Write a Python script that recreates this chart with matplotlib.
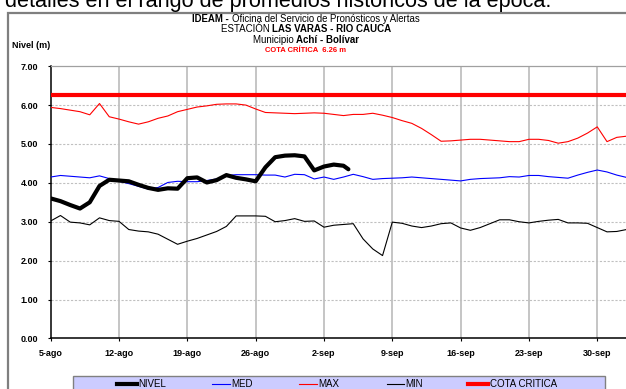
import matplotlib
matplotlib.use("Agg")
import matplotlib.pyplot as plt
from matplotlib.lines import Line2D
from matplotlib.patches import Rectangle

plt.rcParams["font.family"] = ["Liberation Sans", "DejaVu Sans"]

# days counted from 5-ago
days = list(range(60))

nivel_days = list(range(31)) + [30.5]
nivel = [3.60, 3.53, 3.43, 3.34, 3.50, 3.92, 4.08, 4.06, 4.04, 3.95,
         3.87, 3.82, 3.86, 3.85, 4.12, 4.14, 4.01, 4.07, 4.20, 4.13,
         4.09, 4.04, 4.40, 4.66, 4.70, 4.71, 4.68, 4.32, 4.42, 4.47,
         4.44, 4.35]

med = [4.15, 4.19, 4.17, 4.15, 4.13, 4.18, 4.11, 4.04, 3.98, 3.91,
       3.84, 3.88, 4.01, 4.04, 4.03, 4.03, 4.06, 4.10, 4.19, 4.21,
       4.21, 4.21, 4.20, 4.20, 4.15, 4.22, 4.21, 4.10, 4.15, 4.09,
       4.15, 4.22, 4.16, 4.09, 4.11, 4.12, 4.13, 4.15, 4.13, 4.11,
       4.09, 4.07, 4.05, 4.09, 4.11, 4.12, 4.13, 4.16, 4.15, 4.19,
       4.19, 4.16, 4.14, 4.12, 4.20, 4.27, 4.33, 4.28, 4.20, 4.14]

maxi = [5.94, 5.91, 5.87, 5.83, 5.75, 6.04, 5.70, 5.64, 5.57, 5.51,
        5.57, 5.66, 5.72, 5.83, 5.89, 5.95, 5.98, 6.02, 6.03, 6.03,
        6.00, 5.90, 5.81, 5.80, 5.79, 5.78, 5.79, 5.80, 5.79, 5.76,
        5.73, 5.76, 5.76, 5.79, 5.74, 5.68, 5.60, 5.53, 5.40, 5.24,
        5.07, 5.08, 5.10, 5.12, 5.12, 5.10, 5.08, 5.06, 5.06, 5.12,
        5.12, 5.09, 5.02, 5.06, 5.15, 5.28, 5.44, 5.06, 5.17, 5.20]

mini = [3.02, 3.16, 2.99, 2.97, 2.92, 3.10, 3.03, 3.01, 2.80, 2.76,
        2.74, 2.68, 2.55, 2.42, 2.50, 2.57, 2.66, 2.75, 2.88, 3.15,
        3.15, 3.15, 3.14, 3.00, 3.03, 3.08, 3.01, 3.02, 2.86, 2.91,
        2.93, 2.95, 2.56, 2.30, 2.13, 2.99, 2.96, 2.89, 2.85, 2.89,
        2.95, 2.97, 2.84, 2.78, 2.85, 2.95, 3.05, 3.05, 3.00, 2.97,
        3.01, 3.04, 3.06, 2.97, 2.97, 2.96, 2.85, 2.74, 2.75, 2.80]

cota = 6.26
week_labels = ["5-ago", "12-ago", "19-ago", "26-ago", "2-sep",
               "9-sep", "16-sep", "23-sep", "30-sep"]
y_ticks = [0, 1, 2, 3, 4, 5, 6, 7]

W, H = 626, 389
fig = plt.figure(figsize=(W / 100, H / 100), dpi=100)
fig.patch.set_facecolor("white")

# clipped caption from the page above the chart
fig.text(5 / W, 1 - 7 / H, "detalles en el rango de promedios históricos de la época.",
         fontsize=15.6, va="baseline", ha="left", color="black")

# outer chart frame
fig.add_artist(Rectangle((8 / W, -0.2), 1.2, 1.2 - 13 / H, transform=fig.transFigure,
                         fill=False, edgecolor="#7f7f7f", linewidth=1.6, clip_on=False))

ax = fig.add_axes([50.7 / W, 1 - 338.4 / H, 60 * 9.76 / W, (338.4 - 66.2) / H])
ax.set_xlim(0, 60)
ax.set_ylim(0, 7)

for d in range(7, 60, 7):
    ax.axvline(d, color="#c0c0c0", linewidth=1.3, zorder=1)
for v in range(1, 7):
    ax.axhline(v, color="#c0c0c0", linewidth=0.8, linestyle=(0, (2, 1.5)), zorder=1)

ax.plot(days, mini, color="black", linewidth=0.8, zorder=3)
ax.plot(days, maxi, color="#ff0000", linewidth=0.8, zorder=3)
ax.plot(days, med, color="#0000ff", linewidth=0.8, zorder=3)
ax.axhline(cota, color="#ff0000", linewidth=3, zorder=4)
ax.plot(nivel_days, nivel, color="black", linewidth=3, solid_capstyle="round",
        solid_joinstyle="round", zorder=5)

for side in ("top", "right"):
    ax.spines[side].set_color("#a0a0a0")
    ax.spines[side].set_linewidth(0.9)
for side in ("left", "bottom"):
    ax.spines[side].set_color("black")
    ax.spines[side].set_linewidth(1.1)

ax.set_xticks(range(0, 57, 7), week_labels)
ax.set_yticks(y_ticks, [f"{v:.2f}" for v in y_ticks])
ax.tick_params(axis="y", length=2.5, width=0.8, pad=6.5, labelsize=6.5)
ax.tick_params(axis="x", length=2.5, width=0.8, pad=5, labelsize=6.5)
for lab in ax.get_xticklabels() + ax.get_yticklabels():
    lab.set_fontweight("bold")


def mixed_line(y, parts, size=6.5, color="black"):
    # draw a centred line made of normal and bold pieces
    renderer = fig.canvas.get_renderer()
    texts = []
    for s, bold in parts:
        t = fig.text(0, 1 - y / H, s, fontsize=size, fontweight="bold" if bold else "normal",
                     color=color, va="center", ha="left")
        texts.append(t)
    widths = [t.get_window_extent(renderer).width for t in texts]
    x = 306 - sum(widths) / 2
    for t, w in zip(texts, widths):
        t.set_x(x / W)
        x += w


mixed_line(19, [("IDEAM - ", True), ("Oficina del Servicio de Pronósticos y Alertas", False)], size=6.9)
mixed_line(29.5, [("ESTACIÓN ", False), ("LAS VARAS - RIO CAUCA", True)], size=7)
mixed_line(40, [("Municipio ", False), ("Achí - Bolívar", True)], size=7)
mixed_line(50.5, [("COTA CRÍTICA  6.26 m", True)], size=5.5, color="#ff0000")

fig.text(12 / W, 1 - 45 / H, "Nivel (m)", fontsize=6.5, fontweight="bold", va="center", ha="left")

# legend box
fig.add_artist(Rectangle((73 / W, -0.05), (605 - 73) / W, 0.05 + (389 - 376) / H,
                         transform=fig.transFigure, facecolor="#ccccff", edgecolor="#808080",
                         linewidth=1.0, clip_on=False))
ly = 1 - 384 / H
legend_items = [("NIVEL", "black", 3, 117, 137),
                ("MED", "#0000ff", 0.8, 212, 230),
                ("MAX", "#ff0000", 0.8, 299, 317),
                ("MIN", "black", 0.8, 387, 404),
                ("COTA CRITICA", "#ff0000", 3, 468, 488)]
for name, col, lw, x0, x1 in legend_items:
    fig.add_artist(Line2D([x0 / W, x1 / W], [ly, ly], transform=fig.transFigure,
                          color=col, linewidth=lw))
    fig.text((x1 + 1.5) / W, ly, name, fontsize=7, va="center", ha="left")

fig.savefig("out.png", dpi=100)
